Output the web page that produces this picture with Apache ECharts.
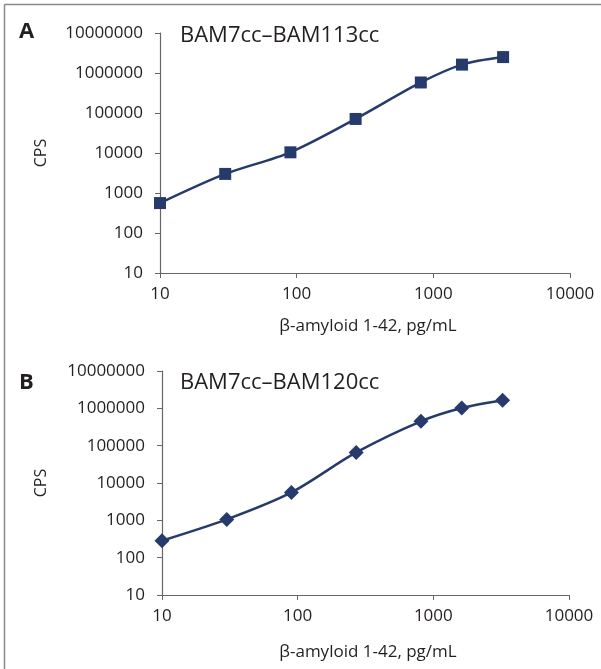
<!DOCTYPE html>
<html>
<head>
<meta charset="utf-8">
<script src="https://cdn.jsdelivr.net/npm/echarts@6/dist/echarts.min.js"></script>
<style>
  html, body { margin: 0; padding: 0; background: #fff; }
  #chart { width: 601px; height: 669px; }
</style>
</head>
<body>
<div id="chart"></div>
<script>
// concentrations, pg/mL
const conc = [10, 30, 90, 270, 810, 1620, 3240];
// CPS readings per antibody pair
const cpsA = [560, 3000, 10400, 71000, 580000, 1620000, 2500000];
const cpsB = [285, 1060, 5600, 66000, 450000, 1020000, 1650000];
const titleA = "BAM7cc–BAM113cc";
const titleB = "BAM7cc–BAM120cc";
const xName = "β-amyloid 1-42, pg/mL";
const yName = "CPS";

const navy = "#263a6b";
const axisGray = "#666";
const ink = "#231f20";
const font = "Open Sans";

function xAxis(gridIndex) {
  return {
    type: "log", logBase: 10, min: 10, max: 10000, gridIndex,
    axisLine: { lineStyle: { color: axisGray, width: 1.2 } },
    axisTick: { show: true, length: 5, inside: false, lineStyle: { color: axisGray } },
    axisLabel: { color: ink, fontSize: 17, fontFamily: font, margin: 13, formatter: v => String(v) },
    minorTick: { show: false },
    splitLine: { show: false }
  };
}

function yAxis(gridIndex) {
  return {
    type: "log", logBase: 10, min: 10, max: 10000000, gridIndex,
    axisLine: { show: true, lineStyle: { color: axisGray, width: 1.2 } },
    axisTick: { show: true, length: 5, lineStyle: { color: axisGray } },
    axisLabel: { color: ink, fontSize: 17, fontFamily: font, margin: 17, formatter: v => String(v) },
    splitLine: { show: false }
  };
}

const chart = echarts.init(document.getElementById("chart"));
chart.setOption({
  animation: false,
  backgroundColor: "#fff",
  grid: [
    { left: 160, top: 33, width: 410, height: 240 },
    { left: 162, top: 371, width: 407, height: 224 }
  ],
  xAxis: [xAxis(0), xAxis(1)],
  yAxis: [yAxis(0), yAxis(1)],
  series: [
    {
      type: "line", xAxisIndex: 0, yAxisIndex: 0, smooth: 0.3,
      data: conc.map((c, i) => [c, cpsA[i]]),
      symbol: "rect", symbolSize: 12,
      lineStyle: { color: navy, width: 2.5 },
      itemStyle: { color: navy }
    },
    {
      type: "line", xAxisIndex: 1, yAxisIndex: 1, smooth: 0.3,
      data: conc.map((c, i) => [c, cpsB[i]]),
      symbol: "diamond", symbolSize: 15,
      lineStyle: { color: navy, width: 2.5 },
      itemStyle: { color: navy }
    }
  ],
  graphic: [
    { type: "line", shape: { x1: 4.5, y1: 4.5, x2: 601, y2: 4.5 }, style: { stroke: "#888", lineWidth: 1.5 } },
    { type: "line", shape: { x1: 4.5, y1: 4.5, x2: 4.5, y2: 669 }, style: { stroke: "#888", lineWidth: 1.5 } },
    { type: "text", left: 19, top: 21, style: { text: "A", font: "bold 22px " + font, fill: ink } },
    { type: "text", left: 19, top: 372, style: { text: "B", font: "bold 22px " + font, fill: ink } },
    { type: "text", left: 180, top: 25, style: { text: titleA, font: "22px " + font, fill: ink } },
    { type: "text", left: 180, top: 372, style: { text: titleB, font: "22px " + font, fill: ink } },
    { type: "text", x: 368, y: 326, style: { text: xName, font: "17px " + font, fill: ink, align: "center", verticalAlign: "middle" } },
    { type: "text", x: 368, y: 652, style: { text: xName, font: "17px " + font, fill: ink, align: "center", verticalAlign: "middle" } },
    { type: "text", x: 41, y: 153, rotation: Math.PI / 2, style: { text: yName, font: "16px " + font, fill: ink, align: "center", verticalAlign: "middle" } },
    { type: "text", x: 41, y: 483, rotation: Math.PI / 2, style: { text: yName, font: "16px " + font, fill: ink, align: "center", verticalAlign: "middle" } }
  ]
});
</script>
</body>
</html>
